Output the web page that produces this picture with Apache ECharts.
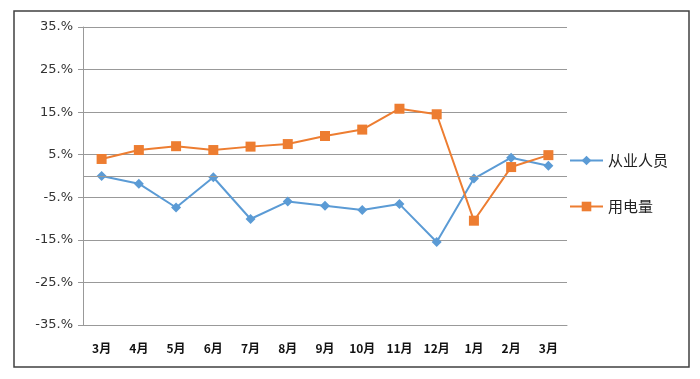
<!DOCTYPE html>
<html><head><meta charset="utf-8">
<script src="https://cdn.jsdelivr.net/npm/echarts@6/dist/echarts.min.js"></script>
<style>html,body{margin:0;padding:0;background:#fff}#c{width:700px;height:379px}</style>
</head><body><div id="c"></div>
<script>
const categories = ['3月','4月','5月','6月','7月','8月','9月','10月','11月','12月','1月','2月','3月'];
const employees = [0.0, -1.8, -7.4, -0.3, -10.1, -6.0, -7.0, -8.0, -6.6, -15.5, -0.6, 4.3, 2.4];
const electricity = [4.0, 6.1, 7.0, 6.1, 6.9, 7.5, 9.4, 10.9, 15.8, 14.5, -10.5, 2.1, 4.9];
const seriesNames = ['从业人员', '用电量'];

const chart = echarts.init(document.getElementById('c'));
chart.setOption({
  animation: false,
  graphic: [{
    type: 'rect', shape: {x: 14, y: 11, width: 675, height: 356},
    style: {fill: 'none', stroke: '#404040', lineWidth: 1.5}, silent: true
  }],
  grid: {left: 83, right: 133, top: 27, bottom: 54},
  legend: {
    orient: 'vertical', left: 564, top: 148, itemGap: 31,
    itemWidth: 33, itemHeight: 12,
    textStyle: {fontSize: 15, color: '#222', fontFamily: 'Noto Sans CJK SC'},
    data: seriesNames
  },
  xAxis: {
    type: 'category', data: categories, boundaryGap: true,
    axisLine: {onZero: false, lineStyle: {color: '#999'}},
    axisTick: {show: false},
    axisLabel: {margin: 17, fontSize: 12, fontWeight: 'bold', color: '#111', fontFamily: 'Noto Sans CJK SC', interval: 0}
  },
  yAxis: {
    type: 'value', min: -35, max: 35, interval: 10,
    axisLine: {show: true, lineStyle: {color: '#999'}},
    axisTick: {show: true, length: 5, lineStyle: {color: '#999'}},
    axisLabel: {margin: 10, fontSize: 13, color: '#333', fontFamily: 'DejaVu Sans', formatter: v => v + '.%'},
    splitLine: {lineStyle: {color: '#999', width: 1}}
  },
  series: [{
    name: seriesNames[0], type: 'line', data: employees,
    symbol: 'diamond', symbolSize: 10,
    lineStyle: {color: '#5B9BD5', width: 2},
    itemStyle: {color: '#5B9BD5'},
    markLine: {silent: true, symbol: 'none', label: {show: false},
      lineStyle: {color: '#999', type: 'solid', width: 1}, data: [{yAxis: 0}]}
  }, {
    name: seriesNames[1], type: 'line', data: electricity,
    symbol: 'rect', symbolSize: 10,
    lineStyle: {color: '#ED7D31', width: 2},
    itemStyle: {color: '#ED7D31'}
  }]
});
</script></body></html>
